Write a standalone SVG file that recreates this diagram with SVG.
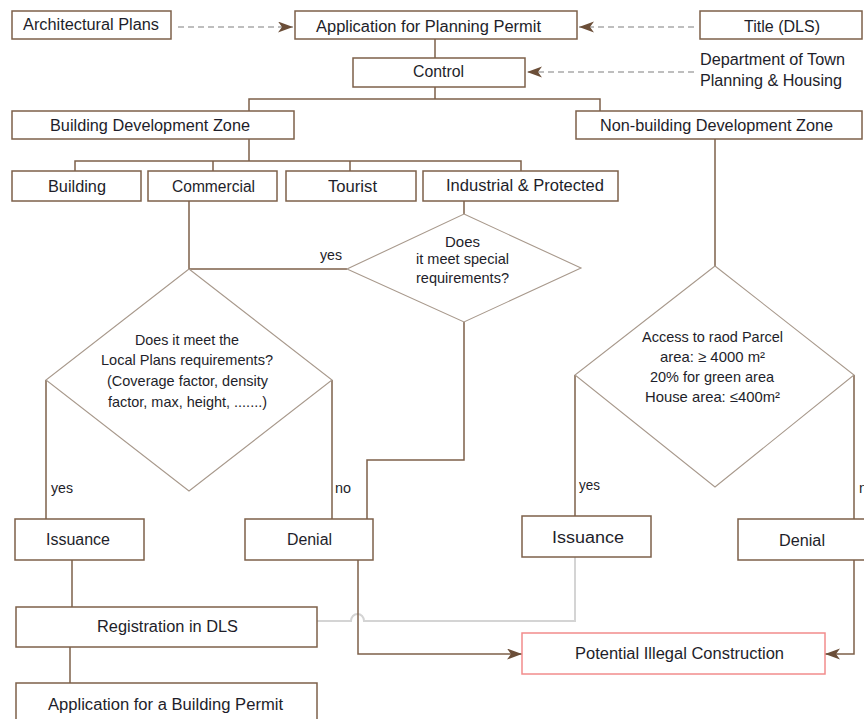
<svg xmlns="http://www.w3.org/2000/svg" width="864" height="719" viewBox="0 0 864 719">
  <style>
    .box { fill: #ffffff; stroke: #7d604a; stroke-width: 1.5; }
    .alert { fill: #ffffff; stroke: #f28c8c; stroke-width: 1.5; }
    .dia { fill: #ffffff; stroke: #a8998c; stroke-width: 1.1; }
    .wire { fill: none; stroke: #7d604a; stroke-width: 1.5; }
    .dash { fill: none; stroke: #a9a9a9; stroke-width: 1.5; stroke-dasharray: 6 4; }
    .ghost { fill: none; stroke: #d4d4d4; stroke-width: 2; }
    text { font-family: "Liberation Sans", Arial, sans-serif; font-size: 16px; fill: #1e1e2a; }
    .q { font-size: 15px; }
  </style>
  <defs>
    <marker id="arrow" markerUnits="userSpaceOnUse" markerWidth="16" markerHeight="12" refX="15" refY="5.5" orient="auto">
      <path d="M0,0 L15,5.5 L0,11 L4,5.5 Z" fill="#6b4e38"/>
    </marker>
  </defs>

  <!-- connectors -->
  <g id="connectors">
    <line class="dash" x1="178" y1="27" x2="293" y2="27" marker-end="url(#arrow)"/>
    <line class="dash" x1="694" y1="27" x2="579" y2="27" marker-end="url(#arrow)"/>
    <line class="dash" x1="694" y1="72" x2="527" y2="72" marker-end="url(#arrow)"/>
    <path class="wire" d="M435,39 V58"/>
    <path class="wire" d="M435,87 V99 M249,111 V99 H600 V111"/>
    <path class="wire" d="M249,139 V161 M75,171 V161 H521 V171 M213,161 V171 M350,161 V171"/>
    <path class="wire" d="M189,201 V269 H347"/>
    <path class="wire" d="M464,201 V214"/>
    <path class="wire" d="M464,322 V460 H367 V519"/>
    <path class="wire" d="M46,380 V519"/>
    <path class="wire" d="M332,380 V519"/>
    <path class="wire" d="M715,139 V266"/>
    <path class="wire" d="M575,375 V516"/>
    <path class="wire" d="M854,375 V519"/>
    <path class="wire" d="M72,560 V607"/>
    <path class="wire" d="M70,647 V683"/>
    <!-- grey link hops over the Denial wire -->
    <path class="ghost" d="M317,621 H351 A6.5,7 0 0 1 364,621 H575 V557"/>
    <path class="wire" d="M358,560 V654 H522" marker-end="url(#arrow)"/>
    <path class="wire" d="M854,560 V654 H825" marker-end="url(#arrow)"/>
  </g>

  <!-- edge labels -->
  <g id="labels">
    <text class="q" x="320" y="260" textLength="22" lengthAdjust="spacingAndGlyphs">yes</text>
    <text class="q" x="51" y="493" textLength="22" lengthAdjust="spacingAndGlyphs">yes</text>
    <text class="q" x="335" y="493" textLength="16" lengthAdjust="spacingAndGlyphs">no</text>
    <text class="q" x="579" y="490" textLength="21" lengthAdjust="spacingAndGlyphs">yes</text>
    <text class="q" x="859" y="493" textLength="16" lengthAdjust="spacingAndGlyphs">no</text>
  </g>

  <g id="architectural-plans">
    <rect class="box" x="12" y="11" width="159" height="28"/>
    <text x="23" y="30" textLength="136" lengthAdjust="spacingAndGlyphs">Architectural Plans</text>
  </g>
  <g id="application-planning-permit">
    <rect class="box" x="295" y="11" width="282" height="28"/>
    <text x="316" y="32" textLength="225" lengthAdjust="spacingAndGlyphs">Application for Planning Permit</text>
  </g>
  <g id="title-dls">
    <rect class="box" x="700" y="11" width="162" height="28"/>
    <text x="744" y="32" textLength="76" lengthAdjust="spacingAndGlyphs">Title (DLS)</text>
  </g>
  <g id="control">
    <rect class="box" x="353" y="58" width="172" height="29"/>
    <text x="413" y="77" textLength="51" lengthAdjust="spacingAndGlyphs">Control</text>
  </g>
  <g id="town-planning-department">
    <text x="700" y="65" textLength="145" lengthAdjust="spacingAndGlyphs">Department of Town</text>
    <text x="700" y="86" textLength="142" lengthAdjust="spacingAndGlyphs">Planning &amp; Housing</text>
  </g>
  <g id="building-development-zone">
    <rect class="box" x="12" y="111" width="282" height="28"/>
    <text x="50" y="131" textLength="200" lengthAdjust="spacingAndGlyphs">Building Development Zone</text>
  </g>
  <g id="non-building-development-zone">
    <rect class="box" x="576" y="111" width="286" height="28"/>
    <text x="600" y="131" textLength="233" lengthAdjust="spacingAndGlyphs">Non-building Development Zone</text>
  </g>
  <g id="building">
    <rect class="box" x="12" y="171" width="129" height="30"/>
    <text x="48" y="192" textLength="58" lengthAdjust="spacingAndGlyphs">Building</text>
  </g>
  <g id="commercial">
    <rect class="box" x="148" y="171" width="129" height="30"/>
    <text x="172" y="192" textLength="83" lengthAdjust="spacingAndGlyphs">Commercial</text>
  </g>
  <g id="tourist">
    <rect class="box" x="286" y="171" width="130" height="30"/>
    <text x="328" y="192" textLength="49" lengthAdjust="spacingAndGlyphs">Tourist</text>
  </g>
  <g id="industrial-protected">
    <rect class="box" x="423" y="171" width="195" height="30"/>
    <text x="446" y="191" textLength="158" lengthAdjust="spacingAndGlyphs">Industrial &amp; Protected</text>
  </g>
  <g id="special-requirements">
    <polygon class="dia" points="464,214 581,268 464,322 347,269"/>
    <text class="q" x="445" y="247" textLength="35" lengthAdjust="spacingAndGlyphs">Does</text>
    <text class="q" x="416" y="264" textLength="93" lengthAdjust="spacingAndGlyphs">it meet special</text>
    <text class="q" x="416" y="283" textLength="93" lengthAdjust="spacingAndGlyphs">requirements?</text>
  </g>
  <g id="local-plans-check">
    <polygon class="dia" points="189,269 332,380 189,491 46,380"/>
    <text class="q" x="135" y="345" textLength="104" lengthAdjust="spacingAndGlyphs">Does it meet the</text>
    <text class="q" x="101" y="365" textLength="172" lengthAdjust="spacingAndGlyphs">Local Plans requirements?</text>
    <text class="q" x="107" y="386" textLength="161" lengthAdjust="spacingAndGlyphs">(Coverage factor, density</text>
    <text class="q" x="108" y="407" textLength="159" lengthAdjust="spacingAndGlyphs">factor, max, height, .......)</text>
  </g>
  <g id="parcel-check">
    <polygon class="dia" points="715,266 854,375 715,487 575,375"/>
    <text class="q" x="642" y="342" textLength="141" lengthAdjust="spacingAndGlyphs">Access to raod Parcel</text>
    <text class="q" x="660" y="362" textLength="105" lengthAdjust="spacingAndGlyphs">area: ≥ 4000 m²</text>
    <text class="q" x="650" y="382" textLength="124" lengthAdjust="spacingAndGlyphs">20% for green area</text>
    <text class="q" x="645" y="402" textLength="135" lengthAdjust="spacingAndGlyphs">House area: ≤400m²</text>
  </g>
  <g id="issuance-building">
    <rect class="box" x="15" y="519" width="129" height="41"/>
    <text x="46" y="545" textLength="64" lengthAdjust="spacingAndGlyphs">Issuance</text>
  </g>
  <g id="denial-building">
    <rect class="box" x="245" y="519" width="128" height="41"/>
    <text x="287" y="545" textLength="45" lengthAdjust="spacingAndGlyphs">Denial</text>
  </g>
  <g id="issuance-non-building">
    <rect class="box" x="522" y="516" width="129" height="41"/>
    <text x="552" y="543" textLength="72" lengthAdjust="spacingAndGlyphs">Issuance</text>
  </g>
  <g id="denial-non-building">
    <rect class="box" x="738" y="519" width="130" height="41"/>
    <text x="779" y="546" textLength="46" lengthAdjust="spacingAndGlyphs">Denial</text>
  </g>
  <g id="registration-dls">
    <rect class="box" x="16" y="607" width="301" height="40"/>
    <text x="97" y="632" textLength="141" lengthAdjust="spacingAndGlyphs">Registration in DLS</text>
  </g>
  <g id="application-building-permit">
    <rect class="box" x="16" y="683" width="301" height="44"/>
    <text x="48" y="710" textLength="235" lengthAdjust="spacingAndGlyphs">Application for a Building Permit</text>
  </g>
  <g id="potential-illegal-construction">
    <rect class="alert" x="522" y="633" width="303" height="41"/>
    <text x="575" y="659" textLength="209" lengthAdjust="spacingAndGlyphs">Potential Illegal Construction</text>
  </g>
</svg>
